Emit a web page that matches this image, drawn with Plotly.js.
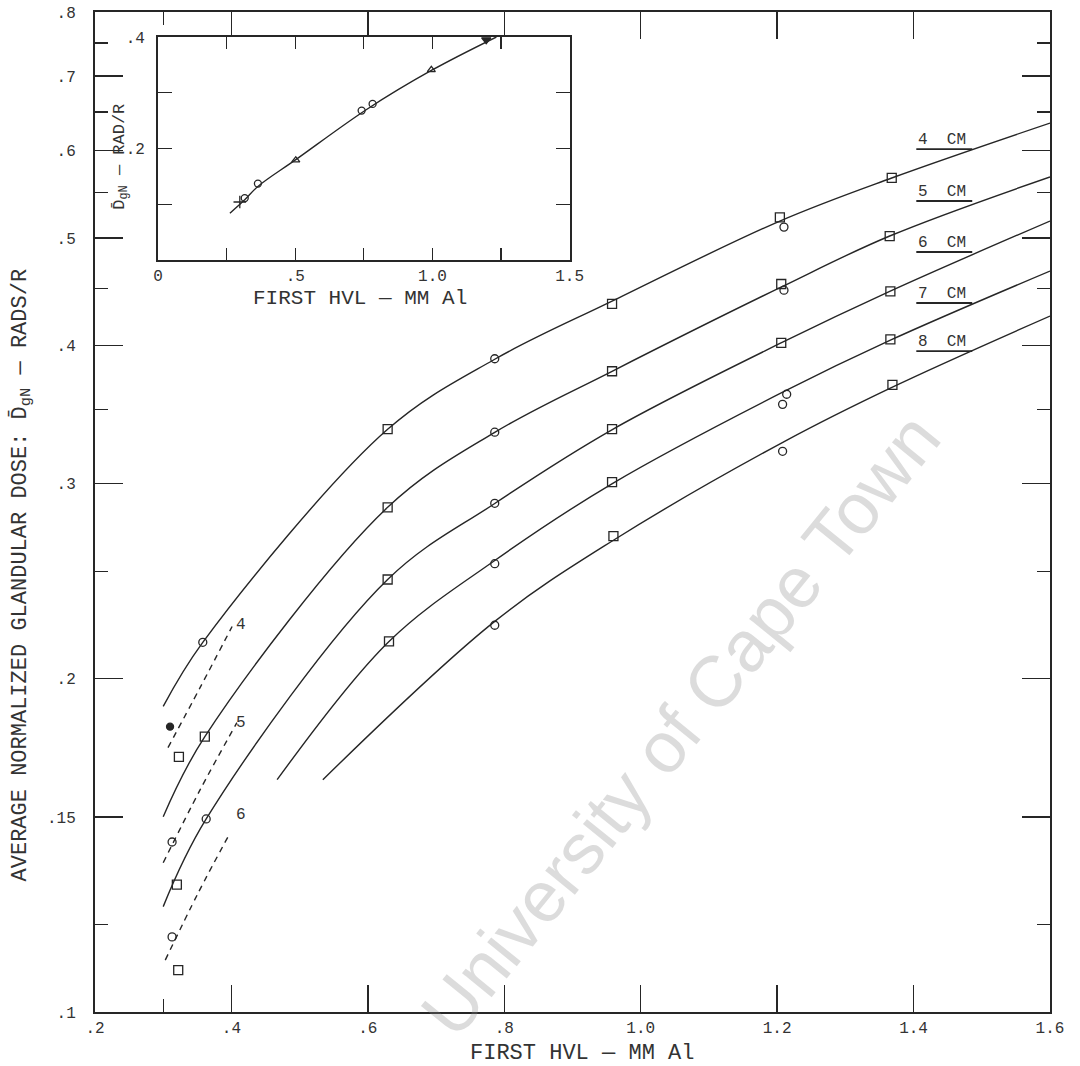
<!DOCTYPE html>
<html><head><meta charset="utf-8">
<script src="https://cdn.plot.ly/plotly-3.0.1.min.js"></script>
<style>html,body{margin:0;padding:0;background:#fff}#chart{width:1080px;height:1066px}</style>
</head><body><div id="chart"></div>
<script>
// ---------- data (first HVL in mm Al, dose in rads/R) ----------
const cm4Hvl = [0.300, 0.358, 0.629, 0.786, 0.958, 1.204, 1.368, 1.600];
const cm4Dose = [0.1888, 0.2157, 0.3359, 0.3886, 0.4385, 0.5180, 0.5665, 0.6350];
const cm5Hvl = [0.300, 0.361, 0.629, 0.786, 0.958, 1.208, 1.365, 1.600];
const cm5Dose = [0.1501, 0.1773, 0.2856, 0.3338, 0.3790, 0.4522, 0.5021, 0.5677];
const cm6Hvl = [0.300, 0.363, 0.629, 0.786, 0.959, 1.208, 1.365, 1.600];
const cm6Dose = [0.1245, 0.1494, 0.2458, 0.2879, 0.3359, 0.4026, 0.4475, 0.5180];
const cm7Hvl = [0.467, 0.631, 0.786, 0.959, 1.211, 1.366, 1.600];
const cm7Dose = [0.1621, 0.2161, 0.2557, 0.3002, 0.3636, 0.4043, 0.4668];
const cm8Hvl = [0.534, 0.786, 0.960, 1.211, 1.369, 1.600];
const cm8Dose = [0.1621, 0.2253, 0.2667, 0.3276, 0.3667, 0.4251];

const dash4Hvl = [0.307, 0.354, 0.401], dash4Dose = [0.1733, 0.1963, 0.2229];
const dash5Hvl = [0.300, 0.354, 0.408], dash5Dose = [0.1364, 0.1587, 0.1825];
const dash6Hvl = [0.303, 0.351, 0.398], dash6Dose = [0.1114, 0.1280, 0.1451];

const squareHvl = [0.629, 0.958, 1.204, 1.368, 0.361, 0.629, 0.958, 1.206, 1.365, 0.320, 0.629, 0.958, 1.206, 1.366, 0.631, 0.958, 1.366, 0.960, 1.369, 0.323, 0.322];
const squareDose = [0.336, 0.436, 0.522, 0.5665, 0.1773, 0.2856, 0.379, 0.4544, 0.502, 0.1303, 0.2458, 0.336, 0.402, 0.4475, 0.2161, 0.301, 0.405, 0.269, 0.3685, 0.170, 0.1091];
const circleHvl = [0.358, 0.786, 1.210, 0.786, 1.210, 0.363, 0.786, 0.786, 1.214, 1.208, 0.786, 1.208, 0.313, 0.313];
const circleDose = [0.2157, 0.389, 0.5115, 0.3339, 0.4486, 0.1494, 0.288, 0.254, 0.3613, 0.3538, 0.2235, 0.3209, 0.1424, 0.1169];
const filledHvl = [0.310], filledDose = [0.181];

const xTickVals = [0.2, 0.4, 0.6, 0.8, 1.0, 1.2, 1.4, 1.6];
const xTickText = ['.2', '.4', '.6', '.8', '1.0', '1.2', '1.4', '1.6'];
const yTickVals = [0.1, 0.15, 0.2, 0.3, 0.4, 0.5, 0.6, 0.7, 0.8];
const yTickText = ['.1', '.15', '.2', '.3', '.4', '.5', '.6', '.7', '.8'];
const yMinorVals = [0.12, 0.25, 0.35, 0.45, 0.55, 0.65, 0.75];

const curveLabels = ['4  CM', '5  CM', '6  CM', '7  CM', '8  CM'];
const curveLabelDose = [0.6016, 0.540, 0.4857, 0.4368, 0.3952];
const dashLabels = ['4', '5', '6'];
const dashLabelDose = [0.2238, 0.1825, 0.1507];

// inset
const insetHvl = [0.262, 0.316, 0.364, 0.502, 0.760, 0.996, 1.233];
const insetDose = [0.084, 0.108, 0.132, 0.180, 0.270, 0.340, 0.400];
const insetCircleHvl = [0.316, 0.364, 0.742, 0.782], insetCircleDose = [0.111, 0.137, 0.268, 0.280];
const insetCrossHvl = [0.298], insetCrossDose = [0.104];
const insetTriHvl = [0.502, 0.996], insetTriDose = [0.179, 0.341];
const insetFillHvl = [1.196], insetFillDose = [0.395];
const insetXTicks = [0, 0.5, 1.0, 1.5], insetXText = ['0', '.5', '1.0', '1.5'];
const insetXMinor = [0.25, 0.75, 1.25];
const insetYTicks = [0.2, 0.4], insetYText = ['.2', '.4'];
const insetYMinor = [0.1, 0.3];

// ---------- drawing ----------
const INK = '#262626';
const TXT = '#333';
const MONO = 'Liberation Mono, Courier New, monospace';
const line = (x, y, dash) => ({x, y, type: 'scatter', mode: 'lines', hoverinfo: 'skip',
  line: {color: INK, width: 1.4, shape: 'spline', smoothing: 1, dash: dash || 'solid'}});
const marks = (x, y, sym, size, xa, ya) => ({x, y, type: 'scatter', mode: 'markers', xaxis: xa || 'x', yaxis: ya || 'y',
  marker: {symbol: sym, size: size, color: INK, line: {color: INK, width: 1.3}}});

const traces = [
  line(cm4Hvl, cm4Dose), line(cm5Hvl, cm5Dose), line(cm6Hvl, cm6Dose), line(cm7Hvl, cm7Dose), line(cm8Hvl, cm8Dose),
  line(dash4Hvl, dash4Dose, '6px,5px'), line(dash5Hvl, dash5Dose, '6px,5px'), line(dash6Hvl, dash6Dose, '6px,5px'),
  marks(squareHvl, squareDose, 'square-open', 9),
  marks(circleHvl, circleDose, 'circle-open', 8),
  marks(filledHvl, filledDose, 'circle', 7),
  Object.assign(line(insetHvl, insetDose), {xaxis: 'x2', yaxis: 'y2'}),
  marks(insetCircleHvl, insetCircleDose, 'circle-open', 7, 'x2', 'y2'),
  marks(insetCrossHvl, insetCrossDose, 'cross-thin-open', 9, 'x2', 'y2'),
  marks(insetTriHvl, insetTriDose, 'triangle-up-open', 7, 'x2', 'y2'),
  marks(insetFillHvl, insetFillDose, 'triangle-down', 8, 'x2', 'y2')
];

const axisBase = {showgrid: false, zeroline: false, showline: true, linecolor: INK, linewidth: 2,
  ticks: 'inside', tickcolor: INK, mirror: 'ticks', tickfont: {family: MONO, size: 16, color: TXT}};

const annotations = [];
curveLabels.forEach((t, i) => annotations.push({x: 1.404, y: Math.log10(curveLabelDose[i]), xref: 'x', yref: 'y',
  text: t, showarrow: false, xanchor: 'left', yanchor: 'bottom', yshift: -2, font: {family: MONO, size: 16, color: TXT}}));
dashLabels.forEach((t, i) => annotations.push({x: 0.404, y: Math.log10(dashLabelDose[i]), xref: 'x', yref: 'y',
  text: t, showarrow: false, xanchor: 'left', yanchor: 'middle', font: {family: MONO, size: 16, color: TXT}}));
annotations.push(
  {x: 0.51, y: -0.041, xref: 'paper', yref: 'paper', text: 'FIRST HVL — MM Al', showarrow: false,
   xanchor: 'center', yanchor: 'middle', font: {family: MONO, size: 22, color: TXT}},
  {x: -0.077, y: 0.437, xref: 'paper', yref: 'paper', textangle: -90, showarrow: false,
   text: 'AVERAGE NORMALIZED GLANDULAR DOSE: D̄<sub>gN</sub> — RADS/R',
   xanchor: 'center', yanchor: 'middle', font: {family: MONO, size: 22, color: TXT}},
  {x: 0.2775, y: 0.714, xref: 'paper', yref: 'paper', text: 'FIRST HVL — MM Al', showarrow: false,
   xanchor: 'center', yanchor: 'middle', font: {family: MONO, size: 21, color: TXT}},
  {x: 0.027, y: 0.855, xref: 'paper', yref: 'paper', textangle: -90, showarrow: false,
   text: 'D̄<sub>gN</sub> — RAD/R', xanchor: 'center', yanchor: 'middle', font: {family: MONO, size: 17, color: TXT}},
  {x: 0.6126, y: 0.287, xref: 'paper', yref: 'paper', textangle: -51, showarrow: false,
   text: 'University of Cape Town', xanchor: 'center', yanchor: 'middle',
   font: {family: 'Liberation Sans, Arial, sans-serif', size: 72, color: 'rgba(140,140,140,0.30)'}}
);

const shapes = curveLabelDose.map(d => ({type: 'line', xref: 'x', yref: 'y', x0: 1.404, x1: 1.486,
  y0: d, y1: d, line: {color: INK, width: 1.8}}));

const layout = {
  width: 1080, height: 1066, showlegend: false,
  margin: {l: 95, r: 30, t: 12, b: 54},
  paper_bgcolor: '#fff', plot_bgcolor: '#fff',
  xaxis: Object.assign({}, axisBase, {range: [0.2, 1.6], tickvals: xTickVals, ticktext: xTickText,
    ticklen: 27, tickwidth: 1.5, ticklabelstandoff: 0,
    minor: {tickvals: [0.3], ticks: 'inside', ticklen: 13, tickcolor: INK, tickwidth: 1.3}}),
  yaxis: Object.assign({}, axisBase, {type: 'log', range: [-1, Math.log10(0.8)], tickvals: yTickVals, ticktext: yTickText,
    ticklen: 28, tickwidth: 1.5, ticklabelstandoff: 14,
    minor: {tickvals: yMinorVals, ticks: 'inside', ticklen: 13, tickcolor: INK, tickwidth: 1.3}}),
  xaxis2: Object.assign({}, axisBase, {domain: [0.066, 0.497], anchor: 'y2', range: [0, 1.5],
    tickvals: insetXTicks, ticktext: insetXText, ticklen: 12, tickwidth: 1.3, ticklabelstandoff: 0,
    minor: {tickvals: insetXMinor, ticks: 'inside', ticklen: 12, tickcolor: INK, tickwidth: 1.3}}),
  yaxis2: Object.assign({}, axisBase, {domain: [0.752, 0.975], anchor: 'x2', range: [0, 0.4],
    tickvals: insetYTicks, ticktext: insetYText, ticklen: 14, tickwidth: 1.3, ticklabelstandoff: 8,
    minor: {tickvals: insetYMinor, ticks: 'inside', ticklen: 14, tickcolor: INK, tickwidth: 1.3}}),
  annotations: annotations,
  shapes: shapes
};

Plotly.newPlot('chart', traces, layout, {displayModeBar: false, staticPlot: true});
</script></body></html>
